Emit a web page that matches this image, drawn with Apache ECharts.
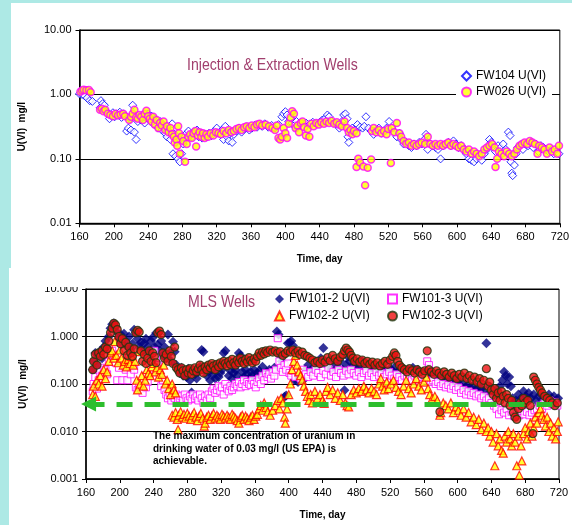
<!DOCTYPE html>
<html>
<head>
<meta charset="utf-8">
<title>U(VI) wells</title>
<script src="https://cdn.jsdelivr.net/npm/echarts@6/dist/echarts.min.js"></script>
<style>
html,body{margin:0;padding:0;background:#ade9e5;}
.panel{position:absolute;background:#fff;}
#p1{left:11px;top:3px;width:561px;height:265px;}
#p2{left:9px;top:268px;width:563px;height:257px;}
#charts{position:absolute;left:0;top:0;width:572px;height:525px;}
</style>
</head>
<body>
<div class="panel" id="p1"></div>
<div class="panel" id="p2"></div>
<div id="charts"></div>
<script>
// x axis (days) shared by both panels
var dayMin = 160, dayMax = 720, dayStep = 40;
var mclLevel = 0.038; // green dashed arrow, US EPA limit

// ---- Injection & Extraction wells ----
var fw104 = [[160,1.02],[163,1.0],[166,0.95],[169,0.88],[172,0.8],[175,0.78],
[184,0.62],[185,0.8],[187,0.72],[189,0.68],[191,0.55],[193,0.5],[195,0.42],[197,0.47],[199,0.52],[201,0.45],[203,0.5],[205,0.48],[207,0.53],[209,0.44],[211,0.5],
[215,0.27],[217,0.3],[219,0.42],[220,0.28],[222,0.68],[224,0.26],[226,0.2],[228,0.38],[230,0.45],[232,0.4],[234,0.48],[236,0.36],[238,0.43],[240,0.5],[242,0.4],[244,0.46],[246,0.35],[248,0.42],[250,0.33],[252,0.3],[254,0.38],[256,0.28],[258,0.32],[260,0.25],[262,0.22],[264,0.27],[266,0.2],[268,0.35],[269,0.12],[271,0.24],[272,0.11],[274,0.2],[275,0.1],[277,0.09],[279,0.12],[281,0.17],[283,0.22],[285,0.25],[287,0.27],[289,0.23],[291,0.22],[293,0.26],[295,0.24],[297,0.28],[299,0.22],[301,0.25],[303,0.21],[305,0.24],[308,0.22],[311,0.25],[314,0.23],[317,0.27],[320,0.3],[323,0.25],[326,0.28],[328,0.2],[330,0.32],[332,0.22],[334,0.19],[336,0.26],[338,0.18],[340,0.24],[343,0.27],[346,0.3],[349,0.26],[352,0.29],[355,0.31],[358,0.28],[361,0.3],[364,0.33],[367,0.31],[370,0.34],[373,0.32],[376,0.35],[380,0.31],[384,0.33],[388,0.3],[392,0.34],[396,0.45],[398,0.5],[400,0.54],[402,0.48],[404,0.38],[406,0.42],[408,0.36],[410,0.33],[413,0.38],[416,0.35],[420,0.32],[424,0.36],[428,0.34],[432,0.37],[436,0.35],[440,0.37],[443,0.4],[446,0.42],[449,0.48],[451,0.45],[454,0.38],[457,0.36],[460,0.34],[463,0.3],[466,0.38],[468,0.48],[470,0.5],[472,0.42],[473,0.22],[474,0.18],[476,0.25],[478,0.3],[481,0.28],[484,0.34],[487,0.31],[490,0.3],[492,0.32],[494,0.45],[497,0.3],[500,0.27],[503,0.24],[506,0.28],[509,0.3],[512,0.25],[515,0.27],[518,0.3],[521,0.38],[524,0.3],[527,0.26],[530,0.22],[533,0.25],[535,0.2],[538,0.17],[541,0.18],[544,0.16],[547,0.15],[550,0.17],[553,0.16],[556,0.18],[559,0.17],[562,0.2],[564,0.24],[566,0.14],[569,0.17],[572,0.16],[575,0.15],[578,0.14],[581,0.1],[584,0.16],[587,0.17],[590,0.18],[593,0.16],[596,0.19],[599,0.17],[602,0.15],[605,0.16],[608,0.14],[611,0.12],[614,0.1],[617,0.095],[620,0.09],[623,0.1],[626,0.11],[629,0.095],[632,0.12],[635,0.14],[638,0.2],[640,0.18],[642,0.15],[645,0.13],[648,0.16],[651,0.15],[654,0.17],[657,0.14],[660,0.26],[662,0.23],[663,0.09],[664,0.06],[665,0.055],[667,0.08],[669,0.12],[671,0.15],[674,0.16],[677,0.14],[680,0.17],[683,0.16],[686,0.18],[689,0.15],[692,0.17],[695,0.13],[698,0.16],[701,0.15],[704,0.14],[707,0.13],[710,0.14],[713,0.12],[716,0.13],[719,0.12]];

var fw026 = [[161,1.1],[163,1.15],[165,1.18],[168,1.16],[171,1.17],[173,1.08],
[184,0.58],[186,0.6],[188,0.55],[190,0.58],[193,0.5],[196,0.48],[199,0.46],[202,0.5],[205,0.47],[208,0.49],[211,0.5],[213,0.46],
[218,0.4],[220,0.45],[222,0.5],[224,0.58],[226,0.44],[228,0.42],[230,0.48],[232,0.45],[234,0.4],[236,0.5],[238,0.56],[240,0.46],[242,0.42],[244,0.38],[246,0.45],[248,0.34],[250,0.4],[252,0.3],[254,0.36],[256,0.33],[258,0.38],[260,0.28],[262,0.32],[264,0.26],[266,0.3],[268,0.24],[270,0.22],[271,0.18],[273,0.2],[274,0.16],[275,0.32],[276,0.25],[277,0.12],[279,0.22],[281,0.19],[283,0.09],[285,0.17],[287,0.22],[289,0.24],[291,0.21],[293,0.25],[295,0.27],[296,0.155],[298,0.23],[300,0.26],[302,0.22],[304,0.25],[306,0.21],[308,0.24],[310,0.22],[313,0.25],[316,0.23],[319,0.26],[322,0.25],[325,0.24],[328,0.27],[331,0.25],[334,0.28],[337,0.26],[340,0.27],[343,0.29],[346,0.3],[349,0.28],[352,0.31],[355,0.32],[358,0.3],[361,0.33],[364,0.31],[367,0.34],[370,0.35],[373,0.33],[377,0.34],[381,0.32],[385,0.3],[388,0.28],[390,0.33],[392,0.21],[394,0.2],[396,0.22],[398,0.3],[400,0.25],[402,0.21],[404,0.35],[406,0.44],[408,0.55],[410,0.5],[412,0.3],[414,0.33],[416,0.26],[418,0.36],[420,0.38],[422,0.31],[424,0.23],[426,0.29],[428,0.22],[430,0.35],[433,0.32],[436,0.36],[439,0.34],[442,0.37],[445,0.35],[448,0.38],[451,0.36],[454,0.39],[457,0.35],[460,0.37],[463,0.34],[466,0.32],[469,0.38],[472,0.3],[474,0.26],[476,0.28],[478,0.24],[480,0.27],[483,0.25],[483,0.075],[485,0.1],[487,0.088],[491,0.076],[493,0.039],[496,0.073],[500,0.098],[501,0.27],[503,0.3],[506,0.26],[509,0.28],[512,0.25],[515,0.27],[518,0.24],[520,0.29],[523,0.086],[524,0.3],[527,0.26],[530,0.36],[533,0.25],[535,0.22],[538,0.19],[541,0.17],[544,0.18],[547,0.16],[550,0.17],[553,0.16],[556,0.17],[559,0.18],[563,0.17],[566,0.22],[569,0.17],[572,0.16],[575,0.17],[578,0.16],[581,0.17],[584,0.16],[587,0.17],[590,0.18],[593,0.16],[596,0.17],[599,0.16],[602,0.15],[605,0.16],[608,0.14],[611,0.13],[614,0.14],[617,0.12],[620,0.13],[623,0.12],[626,0.11],[629,0.12],[632,0.14],[635,0.15],[638,0.16],[641,0.17],[644,0.15],[645,0.075],[647,0.1],[649,0.13],[652,0.12],[655,0.11],[658,0.13],[661,0.12],[664,0.11],[667,0.12],[670,0.14],[673,0.16],[676,0.17],[679,0.18],[682,0.17],[685,0.19],[688,0.18],[691,0.17],[694,0.12],[696,0.16],[699,0.15],[702,0.14],[705,0.12],[708,0.15],[711,0.13],[714,0.14],[717,0.12],[719,0.16]];

// ---- MLS wells ----
var fw101_2 = [[168,0.2],[169,0.3],[171,0.45],[173,0.25],[175,0.4],[177,0.5],[179,0.35],[181,0.6],[183,0.8],[185,0.55],[187,1.0],[189,1.5],[191,1.8],[193,1.9],[195,1.6],[197,1.2],[199,0.9],[201,1.1],[203,0.7],[205,1.14],[207,0.8],[209,0.6],[211,1.0],[213,0.55],[215,0.7],[217,1.38],[219,1.2],[221,0.9],[223,0.6],[225,0.75],[227,0.48],[229,0.72],[231,0.9],[233,0.6],[235,0.45],[237,0.8],[239,0.95],[241,0.6],[243,1.18],[245,0.67],[247,0.5],[249,0.8],[251,0.4],[253,0.6],[255,0.35],[257,1.1],[259,0.45],[261,0.3],[263,0.78],[265,0.48],[267,0.25],[269,0.2],[271,0.17],[273,0.22],[275,0.15],[277,0.19],[279,0.14],[281,0.21],[283,0.12],[285,0.066],[287,0.2],[289,0.16],[291,0.13],[293,0.18],[295,0.23],[297,0.52],[299,0.48],[301,0.2],[303,0.15],[305,0.18],[307,0.12],[309,0.2],[311,0.16],[313,0.13],[315,0.22],[317,0.14],[319,0.17],[321,0.2],[323,0.45],[325,0.5],[327,0.28],[329,0.15],[331,0.19],[333,0.13],[335,0.17],[337,0.2],[339,0.15],[341,0.45],[343,0.4],[345,0.18],[347,0.14],[349,0.2],[351,0.16],[353,0.13],[355,0.18],[357,0.15],[359,0.2],[361,0.14],[363,0.17],[365,0.19],[367,0.15],[369,0.23],[371,0.16],[374,0.18],[377,0.2],[380,0.17],[383,0.22],[386,1.27],[388,1.1],[390,0.4],[392,0.3],[395,0.054],[397,0.057],[399,0.72],[401,0.75],[403,0.8],[405,0.65],[407,0.12],[409,0.14],[411,0.11],[414,0.13],[417,0.12],[420,0.2],[423,0.25],[426,0.18],[429,0.22],[432,0.3],[435,0.25],[438,0.35],[441,0.57],[443,0.3],[446,0.24],[449,0.2],[452,0.32],[455,0.26],[458,0.22],[461,0.3],[464,0.2],[466,0.074],[468,0.25],[470,0.38],[472,0.3],[475,0.22],[478,0.27],[481,0.2],[484,0.25],[487,0.3],[490,0.22],[493,0.26],[496,0.2],[499,0.24],[502,0.19],[505,0.23],[508,0.18],[511,0.22],[514,0.2],[517,0.17],[520,0.21],[523,0.19],[526,0.23],[529,0.18],[532,0.2],[535,0.22],[538,0.17],[541,0.2],[544,0.16],[547,0.22],[550,0.18],[553,0.2],[556,0.15],[559,0.18],[562,0.16],[565,0.2],[568,0.15],[571,0.17],[574,0.14],[577,0.16],[580,0.13],[583,0.15],[586,0.12],[589,0.14],[592,0.11],[595,0.13],[598,0.1],[601,0.12],[604,0.09],[607,0.11],[610,0.085],[613,0.1],[616,0.08],[619,0.095],[622,0.075],[625,0.09],[628,0.08],[631,0.07],[634,0.72],[636,0.06],[638,0.087],[641,0.055],[644,0.07],[647,0.06],[650,0.09],[653,0.12],[655,0.18],[657,0.15],[659,0.1],[661,0.14],[663,0.09],[665,0.05],[667,0.035],[669,0.045],[672,0.06],[675,0.05],[678,0.07],[681,0.055],[684,0.065],[687,0.05],[690,0.06],[693,0.045],[696,0.055],[699,0.06],[702,0.05],[705,0.045],[708,0.06],[711,0.05],[714,0.055],[717,0.045],[719,0.05]];

var fw101_3 = [[168,0.07],[169,0.1],[171,0.14],[173,0.08],[175,0.12],[177,0.18],[179,0.15],[181,0.22],[183,0.2],[185,0.16],[187,0.3],[189,0.4],[191,0.5],[193,0.35],[195,0.28],[197,0.12],[199,0.22],[201,0.3],[203,0.12],[205,0.25],[207,0.2],[209,0.12],[211,0.35],[213,0.16],[215,0.28],[217,0.2],[219,0.085],[221,0.075],[223,0.09],[225,0.08],[227,0.065],[229,0.09],[231,0.085],[233,0.11],[235,0.15],[237,0.2],[239,0.3],[241,0.5],[243,0.35],[245,0.25],[247,0.14],[249,0.09],[251,0.12],[253,0.075],[255,0.06],[257,0.05],[259,0.065],[261,0.045],[263,0.055],[265,0.05],[267,0.06],[269,0.045],[271,0.05],[273,0.055],[275,0.045],[277,0.06],[279,0.05],[281,0.045],[283,0.055],[285,0.048],[287,0.06],[289,0.05],[291,0.055],[293,0.045],[295,0.06],[297,0.05],[299,0.04],[301,0.055],[303,0.045],[305,0.06],[307,0.05],[309,0.07],[311,0.08],[313,0.065],[315,0.075],[317,0.09],[319,0.07],[321,0.085],[323,0.06],[325,0.1],[327,0.08],[329,0.07],[331,0.09],[333,0.075],[335,0.085],[337,0.1],[339,0.09],[341,0.11],[343,0.085],[345,0.1],[347,0.12],[349,0.09],[351,0.11],[353,0.1],[355,0.095],[357,0.12],[359,0.1],[361,0.085],[363,0.11],[365,0.13],[367,0.1],[369,0.15],[371,0.12],[373,0.17],[375,0.14],[377,0.16],[379,0.13],[381,0.18],[383,0.15],[385,0.2],[387,0.92],[389,0.3],[391,0.22],[393,0.18],[395,0.25],[397,0.2],[399,0.27],[401,0.17],[403,0.15],[405,0.19],[408,0.14],[411,0.18],[414,0.13],[417,0.2],[420,0.16],[423,0.14],[426,0.18],[429,0.15],[432,0.2],[435,0.17],[438,0.14],[441,0.19],[444,0.16],[447,0.22],[450,0.15],[453,0.18],[456,0.14],[459,0.2],[462,0.17],[465,0.15],[468,0.19],[471,0.16],[474,0.2],[477,0.17],[480,0.15],[483,0.18],[486,0.14],[489,0.17],[492,0.19],[495,0.15],[498,0.17],[501,0.14],[504,0.18],[507,0.15],[510,0.17],[513,0.14],[516,0.16],[519,0.18],[522,0.15],[525,0.13],[528,0.16],[531,0.14],[534,0.12],[537,0.15],[540,0.13],[543,0.14],[546,0.12],[549,0.15],[552,0.13],[555,0.11],[558,0.14],[561,0.12],[564,0.3],[566,0.25],[568,0.11],[571,0.12],[574,0.1],[577,0.11],[580,0.09],[583,0.1],[586,0.085],[589,0.095],[592,0.08],[595,0.09],[598,0.075],[601,0.085],[604,0.065],[607,0.075],[610,0.06],[613,0.07],[616,0.058],[619,0.065],[622,0.055],[625,0.06],[628,0.05],[631,0.055],[634,0.045],[637,0.05],[640,0.04],[643,0.035],[646,0.03],[649,0.023],[652,0.028],[655,0.025],[658,0.03],[661,0.022],[664,0.026],[667,0.021],[670,0.025],[673,0.022],[676,0.027],[679,0.023],[682,0.026],[685,0.022],[688,0.025],[691,0.028],[694,0.03],[697,0.035],[700,0.03],[703,0.04],[706,0.035],[709,0.045],[712,0.038],[715,0.042],[718,0.035]];

var fw102_2 = [[168,0.06],[169,0.09],[171,0.055],[173,0.12],[175,0.1],[177,0.15],[179,0.09],[181,0.2],[183,0.13],[185,0.18],[187,0.3],[189,0.45],[191,0.5],[193,0.35],[194,0.78],[196,0.4],[198,0.28],[200,0.52],[202,0.35],[204,0.25],[206,0.3],[208,0.23],[210,0.33],[212,0.27],[214,0.38],[216,0.25],[218,0.3],[220,0.12],[221,0.075],[223,0.48],[224,0.1],[226,0.15],[228,0.09],[230,0.12],[232,0.2],[234,0.17],[236,0.15],[238,0.23],[240,0.27],[242,0.18],[244,0.22],[246,0.14],[248,0.2],[250,0.16],[252,0.25],[254,0.1],[256,0.12],[258,0.08],[260,0.06],[262,0.1],[264,0.075],[266,0.065],[262,0.022],[264,0.02],[266,0.025],[268,0.018],[269,0.011],[270,0.022],[272,0.026],[274,0.02],[276,0.023],[278,0.019],[280,0.024],[282,0.021],[284,0.018],[286,0.022],[288,0.025],[290,0.02],[292,0.017],[294,0.021],[296,0.024],[298,0.019],[300,0.013],[301,0.015],[303,0.02],[305,0.022],[307,0.018],[309,0.021],[311,0.024],[313,0.019],[315,0.022],[317,0.02],[319,0.018],[321,0.023],[323,0.021],[325,0.019],[327,0.022],[329,0.02],[331,0.018],[333,0.023],[335,0.021],[337,0.019],[339,0.017],[341,0.015],[343,0.02],[345,0.022],[347,0.018],[349,0.021],[351,0.019],[353,0.017],[355,0.02],[357,0.022],[359,0.018],[361,0.021],[363,0.023],[365,0.03],[367,0.035],[369,0.028],[371,0.04],[373,0.032],[375,0.026],[378,0.022],[381,0.028],[384,0.035],[387,0.045],[389,0.03],[391,0.05],[393,0.04],[395,0.02],[396,0.015],[398,0.03],[400,0.06],[402,0.1],[404,0.2],[406,0.3],[408,0.4],[410,0.25],[412,0.18],[414,0.15],[416,0.12],[418,0.09],[420,0.07],[422,0.055],[424,0.045],[426,0.06],[428,0.04],[431,0.07],[434,0.05],[437,0.06],[440,0.045],[442,0.039],[444,0.07],[446,0.085],[449,0.06],[452,0.075],[455,0.05],[458,0.065],[461,0.045],[464,0.06],[467,0.04],[469,0.035],[471,0.033],[474,0.06],[477,0.075],[480,0.065],[483,0.08],[486,0.07],[489,0.09],[492,0.075],[495,0.065],[498,0.08],[501,0.07],[504,0.06],[507,0.1],[509,0.13],[511,0.09],[513,0.075],[516,0.11],[518,0.08],[521,0.1],[524,0.12],[527,0.085],[530,0.07],[533,0.06],[536,0.09],[539,0.12],[542,0.08],[545,0.065],[548,0.1],[551,0.13],[554,0.09],[557,0.075],[560,0.11],[563,0.14],[565,0.08],[567,0.06],[570,0.05],[573,0.055],[576,0.045],[579,0.022],[580,0.025],[583,0.04],[586,0.035],[589,0.03],[592,0.04],[595,0.025],[598,0.033],[601,0.028],[604,0.022],[607,0.03],[610,0.02],[613,0.025],[616,0.016],[619,0.02],[622,0.014],[625,0.018],[628,0.011],[631,0.015],[634,0.01],[636,0.012],[638,0.008],[640,0.01],[642,0.006],[644,0.0019],[646,0.009],[648,0.005],[650,0.007],[652,0.004],[654,0.0035],[656,0.008],[658,0.006],[660,0.01],[662,0.007],[664,0.005],[666,0.009],[668,0.006],[670,0.0019],[672,0.008],[673,0.0012],[675,0.005],[676,0.0024],[678,0.009],[680,0.012],[682,0.007],[684,0.01],[686,0.015],[688,0.008],[690,0.012],[692,0.02],[694,0.015],[696,0.025],[698,0.03],[700,0.022],[702,0.018],[704,0.013],[706,0.02],[708,0.01],[710,0.015],[712,0.008],[714,0.012],[716,0.007],[718,0.01],[719,0.016]];

var fw102_3 = [[168,0.2],[169,0.3],[171,0.42],[173,0.25],[175,0.45],[177,0.38],[179,0.5],[181,0.42],[183,0.6],[185,0.55],[187,0.8],[189,1.2],[191,1.5],[193,1.9],[195,1.75],[197,1.4],[199,1.0],[201,0.7],[203,0.9],[205,0.5],[207,0.75],[209,0.4],[211,0.6],[213,0.45],[215,0.38],[217,0.55],[219,1.2],[221,1.35],[223,1.25],[225,0.5],[227,0.3],[229,0.42],[231,0.27],[233,0.35],[235,0.5],[237,0.3],[239,0.45],[241,0.38],[243,0.28],[245,1.2],[247,1.3],[249,1.1],[251,0.45],[253,0.35],[255,0.42],[257,0.3],[259,0.5],[261,0.38],[263,0.27],[265,0.6],[267,0.22],[269,0.2],[271,0.17],[273,0.22],[275,0.19],[277,0.15],[279,0.2],[281,0.17],[283,0.21],[285,0.16],[287,0.19],[289,0.22],[291,0.18],[293,0.21],[295,0.25],[297,0.2],[299,0.17],[301,0.23],[303,0.2],[305,0.25],[307,0.22],[309,0.27],[311,0.24],[313,0.2],[315,0.26],[317,0.23],[319,0.28],[321,0.25],[323,0.3],[325,0.27],[327,0.24],[329,0.3],[331,0.26],[333,0.33],[335,0.28],[337,0.25],[339,0.32],[341,0.28],[343,0.35],[345,0.3],[347,0.27],[349,0.33],[351,0.29],[353,0.36],[355,0.31],[357,0.28],[359,0.34],[361,0.3],[363,0.38],[365,0.45],[367,0.4],[369,0.48],[371,0.43],[373,0.5],[375,0.46],[378,0.52],[381,0.47],[384,0.5],[387,0.45],[390,0.48],[393,0.4],[396,0.44],[399,0.5],[402,0.47],[405,0.52],[408,0.45],[411,0.5],[413,0.42],[416,0.47],[419,0.4],[422,0.38],[425,0.35],[428,0.32],[431,0.28],[434,0.3],[437,0.27],[440,0.32],[443,0.29],[446,0.36],[449,0.31],[452,0.4],[455,0.34],[458,0.3],[461,0.37],[464,0.42],[466,0.5],[468,0.57],[470,0.52],[472,0.47],[474,0.4],[476,0.35],[478,0.3],[481,0.34],[484,0.29],[487,0.32],[490,0.27],[493,0.3],[496,0.26],[499,0.29],[502,0.25],[505,0.28],[508,0.24],[511,0.27],[514,0.3],[517,0.26],[520,0.32],[523,0.38],[525,0.45],[527,0.4],[529,0.3],[531,0.25],[534,0.22],[537,0.2],[540,0.18],[543,0.21],[546,0.19],[549,0.17],[552,0.2],[555,0.18],[558,0.16],[561,0.19],[564,0.5],[566,0.2],[569,0.18],[572,0.16],[575,0.19],[578,0.17],[579,0.026],[581,0.15],[584,0.18],[587,0.16],[590,0.14],[593,0.17],[596,0.15],[599,0.13],[602,0.16],[605,0.14],[608,0.17],[611,0.13],[614,0.15],[617,0.12],[620,0.14],[623,0.11],[626,0.13],[628,0.1],[631,0.12],[634,0.21],[636,0.09],[638,0.11],[640,0.075],[642,0.06],[644,0.08],[646,0.05],[648,0.065],[650,0.045],[652,0.07],[654,0.055],[656,0.04],[658,0.06],[660,0.05],[662,0.035],[664,0.045],[666,0.025],[668,0.02],[670,0.018],[672,0.03],[674,0.04],[676,0.035],[678,0.05],[680,0.04],[683,0.045],[686,0.035],[689,0.009],[690,0.14],[692,0.12],[694,0.1],[696,0.085],[698,0.075],[700,0.065],[703,0.055],[706,0.05],[709,0.045],[712,0.04],[715,0.035],[718,0.04]];

var FONT = "'Liberation Sans', Arial, sans-serif";
var TITLE_COLOR = '#a13f6d';

function xAxisOf(gi){
	return {
		type:'value', gridIndex:gi, min:dayMin, max:dayMax, interval:dayStep,
		name:'Time, day', nameLocation:'middle', nameGap:31,
		nameTextStyle:{fontFamily:FONT, fontSize:10, fontWeight:'bold', color:'#000'},
		axisLine:{lineStyle:{color:'#000', width:1.5}},
		axisTick:{show:true, inside:false, length:4, lineStyle:{color:'#000'}},
		axisLabel:{fontFamily:FONT, fontSize:11, color:'#000', margin:8},
		splitLine:{show:false}
	};
}
function yAxisOf(gi, lo, digits, gap){
	return {
		type:'log', logBase:10, gridIndex:gi, min:lo, max:10,
		name:'U(VI)  mg/l', nameLocation:'middle', nameGap:gap,
		nameTextStyle:{fontFamily:FONT, fontSize:10, fontWeight:'bold', color:'#000'},
		axisLine:{show:true, lineStyle:{color:'#000', width:1.5}},
		axisTick:{show:true, inside:false, length:4, lineStyle:{color:'#000'}},
		axisLabel:{fontFamily:FONT, fontSize:11, color:'#000', margin:8,
			formatter:function(v){ return v.toFixed(digits); }},
		splitLine:{show:true, lineStyle:{color:'#000', width:1}},
		minorTick:{show:false}
	};
}

// condensed panel title (no narrow font installed, so squeeze it)
function panelTitle(txt, x, y){
	return {type:'text', z:100, x:x, y:y, scaleX:0.83,
		style:{text:txt, fill:TITLE_COLOR, font:"17px 'Liberation Sans', Arial, sans-serif", textVerticalAlign:'middle'}};
}

var charts = echarts.init(document.getElementById('charts'), null, {renderer:'canvas'});
var option = {
	animation:false,
	backgroundColor:'transparent',
	legend:[
		{data:['FW104 U(VI)','FW026 U(VI)'], orient:'vertical', left:456, top:68, itemGap:4,
			itemWidth:9, itemHeight:9, backgroundColor:'#fff', padding:[2,6,2,5],
			textStyle:{fontFamily:FONT, fontSize:12, color:'#000'}},
		{data:['FW101-2 U(VI)','FW102-2 U(VI)'], orient:'vertical', left:274, top:293, itemGap:5,
			itemWidth:9, itemHeight:9, padding:0,
			textStyle:{fontFamily:FONT, fontSize:12, color:'#000'}},
		{data:['FW101-3 U(VI)','FW102-3 U(VI)'], orient:'vertical', left:387, top:293, itemGap:5,
			itemWidth:9, itemHeight:9, padding:0,
			textStyle:{fontFamily:FONT, fontSize:12, color:'#000'}}
	],
	grid:[
		{left:79.5, right:11, top:30, height:193.3, show:true, borderColor:'#000', borderWidth:1, backgroundColor:'transparent'},
		{left:86, right:13, top:289, height:190, show:true, borderColor:'#000', borderWidth:1, backgroundColor:'transparent'}
	],
	xAxis:[xAxisOf(0), xAxisOf(1)],
	yAxis:[yAxisOf(0, 0.01, 2, 52), yAxisOf(1, 0.001, 3, 58)],
	series:[{
		name:'FW104 U(VI)', type:'scatter', xAxisIndex:0, yAxisIndex:0,
		symbol:'diamond', symbolSize:8, data:fw104,
		itemStyle:{color:'#fff', borderColor:'#0000ff', borderWidth:1}
	},{
		name:'FW026 U(VI)', type:'scatter', xAxisIndex:0, yAxisIndex:0,
		symbol:'circle', symbolSize:7, data:fw026,
		itemStyle:{color:'#ffff00', borderColor:'#ff00ff', borderWidth:1.5}
	},{
		name:'FW101-2 U(VI)', type:'scatter', xAxisIndex:1, yAxisIndex:1,
		symbol:'diamond', symbolSize:10, data:fw101_2,
		itemStyle:{color:'#000080'}
	},{
		name:'FW101-3 U(VI)', type:'scatter', xAxisIndex:1, yAxisIndex:1,
		symbol:'rect', symbolSize:7, data:fw101_3,
		itemStyle:{color:'#fff', borderColor:'#ff00ff', borderWidth:1}
	},{
		name:'FW102-2 U(VI)', type:'scatter', xAxisIndex:1, yAxisIndex:1,
		symbol:'triangle', symbolSize:8, data:fw102_2,
		itemStyle:{color:'#ffff00', borderColor:'#ff0000', borderWidth:1.2}
	},{
		name:'FW102-3 U(VI)', type:'scatter', xAxisIndex:1, yAxisIndex:1,
		symbol:'circle', symbolSize:8, data:fw102_3,
		itemStyle:{color:'#ee1111', borderColor:'#1e3a10', borderWidth:1.2},
		markLine:{
			silent:true, symbol:['triangle','none'], symbolSize:[15,15],
			label:{show:false},
			lineStyle:{color:'#2dbe2d', width:5, type:[16,12], dashOffset:0},
			data:[[{coord:[163, mclLevel]},{coord:[720, mclLevel]}]]
		}
	}],
	graphic:[
		panelTitle('Injection & Extraction Wells', 187, 65),
		panelTitle('MLS Wells', 188, 302),
		// hide the upper part of the 10.000 label like the pasted panels do
		{type:'rect', z:100, shape:{x:30, y:268, width:52, height:19}, style:{fill:'#fff'}},
		{type:'text', z:100, left:153, top:430,
			style:{text:'The maximum concentration of uranium in\ndrinking water of 0.03 mg/l (US EPA) is\nachievable.',
				fill:'#000', font:"bold 10px 'Liberation Sans', Arial, sans-serif", lineHeight:12.5}}
	]
};
charts.setOption(option);
</script>
</body>
</html>
